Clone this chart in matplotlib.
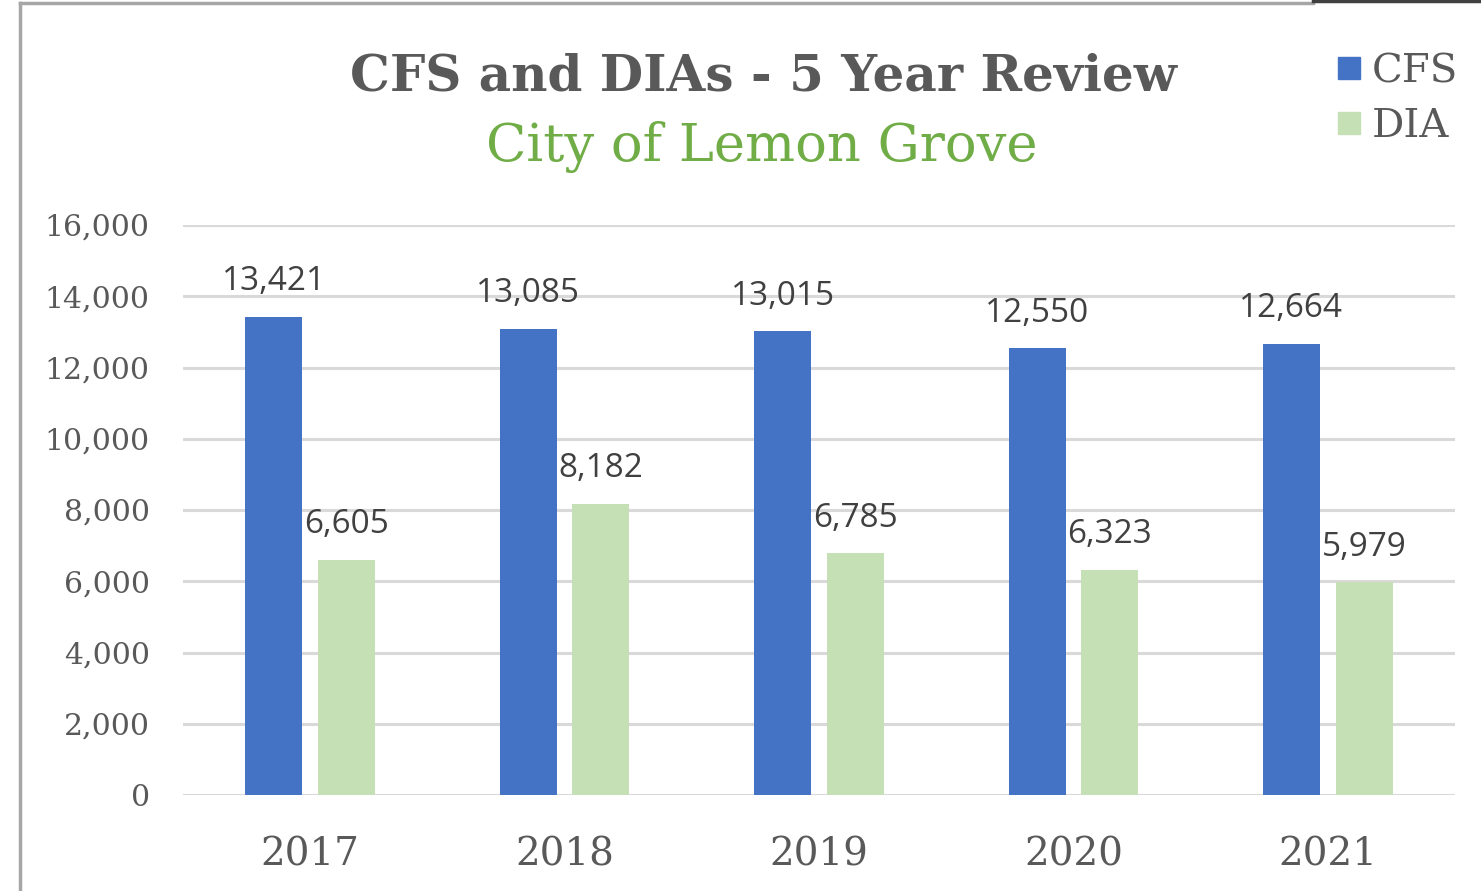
import matplotlib
matplotlib.use("Agg")
import matplotlib.pyplot as plt
from matplotlib.lines import Line2D
import numpy as np

# data
years = ["2017", "2018", "2019", "2020", "2021"]
cfs = [13421, 13085, 13015, 12550, 12664]
dia = [6605, 8182, 6785, 6323, 5979]

blue = "#4472C4"
green = "#C5E0B4"
grey_txt = "#595959"

fig = plt.figure(figsize=(14.81, 8.91), dpi=100)
ax = fig.add_axes([183 / 1481, 1 - 795 / 891, (1455 - 183) / 1481, (795 - 225) / 891])

x = np.arange(len(years))
w = 0.224
off = 0.143
b1 = ax.bar(x - off, cfs, w, color=blue, zorder=3)
b2 = ax.bar(x + off, dia, w, color=green, zorder=3)

# data labels
for bars, vals in ((b1, cfs), (b2, dia)):
    for r, v in zip(bars, vals):
        ax.annotate(f"{v:,}", (r.get_x() + r.get_width() / 2, v),
                    xytext=(0, 19), textcoords="offset points",
                    ha="center", va="baseline", fontsize=24,
                    family="Open Sans", color="#404040", zorder=4)

ax.set_xlim(-0.5, len(years) - 0.5)
ax.set_ylim(0, 16000)
ax.set_yticks(np.arange(0, 16001, 2000))
ax.set_yticklabels([f"{t:,}" for t in range(0, 16001, 2000)])
ax.set_xticks(x)
ax.set_xticklabels(years)
ax.grid(axis="y", color="#D9D9D9", linewidth=2.2, zorder=0)
ax.tick_params(axis="y", length=0, pad=24, labelsize=21.5, labelcolor=grey_txt)
ax.tick_params(axis="x", length=0, pad=30, labelsize=28, labelcolor=grey_txt)
for lab in ax.get_xticklabels() + ax.get_yticklabels():
    lab.set_family("DejaVu Serif")
for s in ax.spines.values():
    s.set_visible(False)

# titles
fig.text(763 / 1481, 1 - 77 / 891, "CFS and DIAs - 5 Year Review", ha="center", va="center",
         fontsize=36, fontweight="bold", family="DejaVu Serif", color=grey_txt)
fig.text(762 / 1481, 1 - 147 / 891, "City of Lemon Grove", ha="center", va="center",
         fontsize=38, family="DejaVu Serif", color="#70AD47")

# legend
handles = [Line2D([], [], marker="s", linestyle="none", markersize=16, color=blue),
           Line2D([], [], marker="s", linestyle="none", markersize=16, color=green)]
fig.legend(handles, ["CFS", "DIA"], loc="upper left", bbox_to_anchor=(1317 / 1481, 1 - 33 / 891),
           frameon=False, handlelength=0.6, handletextpad=0.25,
           labelspacing=0.45, borderpad=0, prop={"family": "DejaVu Serif", "size": 29},
           labelcolor=grey_txt)

# frame lines of the pasted chart
fig.add_artist(Line2D([20 / 1481, 20 / 1481], [0, 1 - 3 / 891], transform=fig.transFigure,
                      color="#A6A6A6", linewidth=2.5))
fig.add_artist(Line2D([20 / 1481, 1313 / 1481], [1 - 3 / 891, 1 - 3 / 891], transform=fig.transFigure,
                      color="#A6A6A6", linewidth=2.5))
fig.add_artist(Line2D([1313 / 1481, 1], [1 - 1 / 891, 1 - 1 / 891], transform=fig.transFigure,
                      color="#404040", linewidth=2.5))

fig.savefig("out.png", dpi=100)
